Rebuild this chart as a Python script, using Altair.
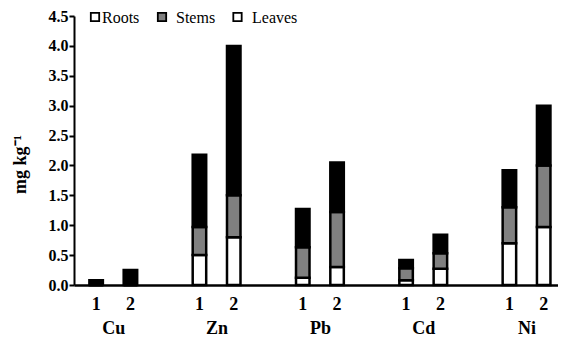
import altair as alt
import pandas as pd

elements = ["Cu", "Zn", "Pb", "Cd", "Ni"]
treatments = ["1", "2"]
parts = ["Roots", "Stems", "Leaves"]

roots_1 = [0.00, 0.50, 0.12, 0.08, 0.70]
stems_1 = [0.00, 0.47, 0.51, 0.20, 0.60]
leaves_1 = [0.08, 1.21, 0.64, 0.14, 0.62]
roots_2 = [0.00, 0.80, 0.30, 0.27, 0.97]
stems_2 = [0.00, 0.70, 0.92, 0.26, 1.03]
leaves_2 = [0.25, 2.50, 0.83, 0.31, 1.00]

legend_fills = ["white", "#808080", "white"]
bar_colors = ["white", "#808080", "black"]
y_ticks = [0, 0.5, 1, 1.5, 2, 2.5, 3, 3.5, 4, 4.5]

series = {
    ("1", "Roots"): roots_1, ("1", "Stems"): stems_1, ("1", "Leaves"): leaves_1,
    ("2", "Roots"): roots_2, ("2", "Stems"): stems_2, ("2", "Leaves"): leaves_2,
}
OFF = 0.166
rows = []
for (t, p), vals in series.items():
    for i, e in enumerate(elements):
        rows.append({
            "element": e, "treatment": t, "part": p, "value": vals[i],
            "pos": i + (-OFF if t == "1" else OFF), "order": parts.index(p),
        })
df = pd.DataFrame(rows)

W, H = 484, 269
FONT = "'Liberation Serif', 'Times New Roman', serif"

xscale = alt.Scale(domain=[-0.3318, 4.256], nice=False, zero=False)
yscale = alt.Scale(domain=[0, 4.5], nice=False)

bars = alt.Chart(df).mark_bar(size=13.5, stroke="black", strokeWidth=2.5).encode(
    x=alt.X("pos:Q", scale=xscale, title=None,
            axis=alt.Axis(values=list(range(len(elements))),
                          labelExpr="['Cu','Zn','Pb','Cd','Ni'][datum.value]",
                          tickSize=0, grid=False, domainColor="black", domainWidth=2.5,
                          labelFont=FONT, labelFontWeight="bold", labelFontSize=18,
                          labelColor="black", labelPadding=34)),
    y=alt.Y("value:Q", stack="zero", scale=yscale, title="mg kg⁻¹",
            axis=alt.Axis(values=y_ticks, format=".1f", grid=False,
                          domainColor="black", domainWidth=2, tickColor="black",
                          tickWidth=2, tickSize=5, labelFont=FONT,
                          labelFontWeight="bold", labelFontSize=16, labelColor="black",
                          labelPadding=1, titleFont=FONT, titleFontWeight="bold",
                          titleFontSize=18, titleColor="black", titleX=-54,
                          titleY=148, titleAngle=-90, titleAlign="center",
                          titleBaseline="middle")),
    color=alt.Color("part:N", scale=alt.Scale(domain=parts, range=bar_colors), legend=None),
    order=alt.Order("order:Q"),
)

tlabels = alt.Chart(df[df["part"] == "Roots"]).mark_text(
    font=FONT, fontWeight="bold", fontSize=18, baseline="middle", color="black"
).encode(x=alt.X("pos:Q", scale=xscale), y=alt.value(H + 20), text="treatment:N")

layers = [bars, tlabels]
sq_x = [21, 88, 163.5]
tx_x = [28, 102, 178]
for i, p in enumerate(parts):
    ld = pd.DataFrame({"label": [p]})
    layers.append(alt.Chart(ld).mark_square(size=70, fill=legend_fills[i], fillOpacity=1,
                                            stroke="black", strokeWidth=1.8).encode(
        x=alt.value(sq_x[i]), y=alt.value(1)))
    layers.append(alt.Chart(ld).mark_text(font=FONT, fontSize=16, align="left",
                                          baseline="middle", color="black").encode(
        x=alt.value(tx_x[i]), y=alt.value(1.5), text="label:N"))

chart = alt.layer(*layers).properties(
    width=W, height=H, autosize="none",
    padding={"left": 66, "top": 8, "right": 0, "bottom": 56},
).configure_view(stroke=None)

chart.save("out.html", embed_options={"renderer": "svg", "actions": False})
